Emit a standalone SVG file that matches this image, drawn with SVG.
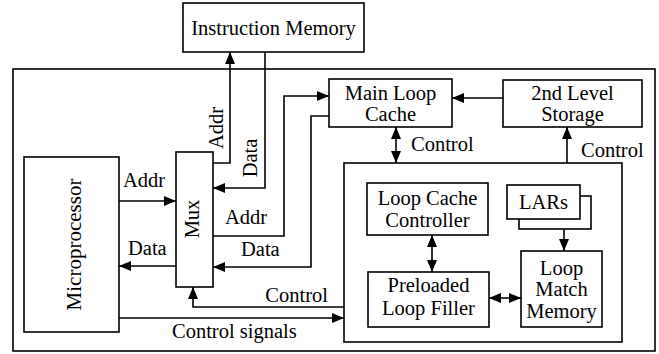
<svg xmlns="http://www.w3.org/2000/svg" width="659" height="354" viewBox="0 0 659 354">
  <style>
    .box { fill: #fff; stroke: #000; stroke-width: 1.6; }
    .frame { fill: none; stroke: #000; stroke-width: 1.6; }
    .wire { fill: none; stroke: #000; stroke-width: 1.6; }
    .arr { marker-end: url(#head); }
    .dbl { marker-start: url(#head); marker-end: url(#head); }
    text { font-family: "Liberation Serif", "Times New Roman", serif; font-size: 20.5px; fill: #000; }
    .c { text-anchor: middle; }
  </style>
  <defs>
    <marker id="head" viewBox="0 0 12 10" refX="12" refY="5" markerWidth="12" markerHeight="10" markerUnits="userSpaceOnUse" orient="auto-start-reverse">
      <path d="M0,0 L12,5 L0,10 z" fill="#000"/>
    </marker>
  </defs>

  <!-- chip boundary and loop cache subsystem boundary -->
  <rect class="frame" x="13" y="69" width="642" height="282"/>
  <rect class="frame" x="344" y="163" width="278" height="179"/>

  <g id="connectors">
    <!-- Mux to instruction memory (address) -->
    <polyline class="wire arr" points="213,163 230,163 230,52"/>
    <!-- instruction memory to Mux (data) -->
    <polyline class="wire arr" points="265,52 265,188 213,188"/>
    <!-- processor to Mux (address) -->
    <line class="wire arr" x1="119" y1="201" x2="176" y2="201"/>
    <!-- Mux to processor (data) -->
    <line class="wire arr" x1="176" y1="266" x2="119" y2="266"/>
    <!-- Mux to main loop cache (address) -->
    <polyline class="wire arr" points="213,236 284,236 284,96 329,96"/>
    <!-- main loop cache to Mux (data) -->
    <polyline class="wire arr" points="329,116 311,116 311,267 213,267"/>
    <!-- mux select -->
    <polyline class="wire arr" points="344,307 193,307 193,287"/>
    <!-- processor control signals -->
    <line class="wire arr" x1="119" y1="318" x2="344" y2="318"/>
    <!-- 2nd level storage to main loop cache -->
    <line class="wire arr" x1="503" y1="98" x2="452" y2="98"/>
    <!-- main loop cache control -->
    <line class="wire dbl" x1="396" y1="127" x2="396" y2="163"/>
    <!-- 2nd level storage control -->
    <line class="wire arr" x1="567" y1="163" x2="567" y2="127"/>
    <!-- controller <-> filler -->
    <line class="wire dbl" x1="432" y1="235" x2="432" y2="272"/>
    <!-- filler <-> match memory -->
    <line class="wire dbl" x1="489" y1="298" x2="521" y2="298"/>
    <!-- LARs to match memory -->
    <line class="wire arr" x1="564" y1="229" x2="564" y2="251"/>
  </g>

  <!-- connector labels -->
  <text transform="translate(223,128) rotate(-90)" class="c">Addr</text>
  <text transform="translate(257,158) rotate(-90)" class="c">Data</text>
  <text x="123" y="187">Addr</text>
  <text x="128" y="255">Data</text>
  <text x="225" y="224">Addr</text>
  <text x="241" y="256">Data</text>
  <text x="328" y="302" text-anchor="end">Control</text>
  <text x="172" y="338">Control signals</text>
  <text x="411" y="151">Control</text>
  <text x="581" y="157">Control</text>

  <g id="instruction-memory">
    <rect class="box" x="183" y="3" width="181" height="49"/>
    <text x="273.5" y="35" class="c">Instruction Memory</text>
  </g>

  <g id="microprocessor">
    <rect class="box" x="24" y="157" width="95" height="175"/>
    <text transform="translate(81,244.5) rotate(-90)" class="c" style="font-size:21px">Microprocessor</text>
  </g>

  <g id="mux">
    <rect class="box" x="176" y="152" width="37" height="135"/>
    <text transform="translate(199,219) rotate(-90)" class="c">Mux</text>
  </g>

  <g id="main-loop-cache">
    <rect class="box" x="329" y="79" width="123" height="48"/>
    <text x="390.5" y="100" class="c">Main Loop</text>
    <text x="390.5" y="121" class="c">Cache</text>
  </g>

  <g id="second-level-storage">
    <rect class="box" x="503" y="80" width="139" height="47"/>
    <text x="572.5" y="100" class="c">2nd Level</text>
    <text x="572.5" y="121" class="c">Storage</text>
  </g>

  <g id="loop-cache-controller">
    <rect class="box" x="367" y="183" width="121" height="52"/>
    <text x="427.5" y="205" class="c">Loop Cache</text>
    <text x="427.5" y="227" class="c">Controller</text>
  </g>

  <g id="lars">
    <rect class="box" x="519" y="196" width="72" height="33"/>
    <rect class="box" x="507" y="185" width="73" height="34"/>
    <text x="543.5" y="209" class="c">LARs</text>
  </g>

  <g id="preloaded-loop-filler">
    <rect class="box" x="368" y="272" width="121" height="55"/>
    <text x="428.5" y="292" class="c">Preloaded</text>
    <text x="428.5" y="315" class="c">Loop Filler</text>
  </g>

  <g id="loop-match-memory">
    <rect class="box" x="521" y="251" width="81" height="76"/>
    <text x="561.5" y="275" class="c">Loop</text>
    <text x="561.5" y="296" class="c">Match</text>
    <text x="561.5" y="318" class="c">Memory</text>
  </g>
</svg>
